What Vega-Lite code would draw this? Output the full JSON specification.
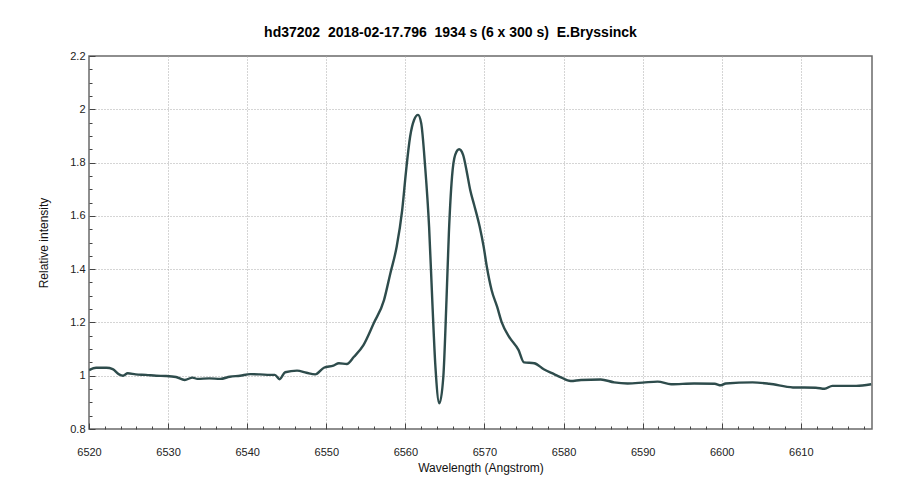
{
  "$schema": "https://vega.github.io/schema/vega-lite/v6.json",
  "width": 783,
  "height": 373,
  "autosize": "none",
  "padding": {"left": 89, "top": 56, "right": 28, "bottom": 71},
  "background": "white",
  "title": {
    "text": "hd37202\u00a0\u00a02018-02-17.796\u00a0\u00a01934 s (6 x 300 s)\u00a0\u00a0E.Bryssinck",
    "font": "Liberation Sans",
    "fontSize": 14,
    "fontWeight": "bold",
    "color": "#000000",
    "anchor": "middle",
    "offset": 10,
    "dx": -30
  },
  "config": {
    "view": {"stroke": "#6a6a6a", "strokeWidth": 1.5},
    "axis": {
      "labelFont": "Liberation Sans",
      "titleFont": "Liberation Sans",
      "labelFontSize": 11,
      "titleFontSize": 12,
      "titleFontWeight": "normal",
      "labelColor": "#222222",
      "titleColor": "#111111",
      "domain": false,
      "tickColor": "#444444",
      "gridColor": "#aaaaaa",
      "gridDash": [1, 2],
      "gridWidth": 1
    }
  },
  "data": {
    "values": [
      {"w": 6520.0, "i": 1.021}, {"w": 6520.9, "i": 1.030}, {"w": 6522.2, "i": 1.030}, {"w": 6523.0, "i": 1.025},
      {"w": 6523.8, "i": 1.005}, {"w": 6524.3, "i": 1.000}, {"w": 6524.9, "i": 1.009}, {"w": 6525.9, "i": 1.005},
      {"w": 6527.2, "i": 1.003}, {"w": 6528.5, "i": 1.000}, {"w": 6529.7, "i": 0.999}, {"w": 6531.0, "i": 0.995},
      {"w": 6532.1, "i": 0.984}, {"w": 6533.1, "i": 0.993}, {"w": 6533.7, "i": 0.988}, {"w": 6535.2, "i": 0.990},
      {"w": 6536.6, "i": 0.988}, {"w": 6537.8, "i": 0.996}, {"w": 6539.1, "i": 1.000}, {"w": 6540.4, "i": 1.006},
      {"w": 6541.6, "i": 1.005}, {"w": 6542.9, "i": 1.003}, {"w": 6543.5, "i": 1.003}, {"w": 6544.1, "i": 0.987},
      {"w": 6544.8, "i": 1.013}, {"w": 6546.3, "i": 1.019}, {"w": 6547.5, "i": 1.011}, {"w": 6548.6, "i": 1.005},
      {"w": 6549.7, "i": 1.030}, {"w": 6550.9, "i": 1.038}, {"w": 6551.6, "i": 1.047}, {"w": 6552.6, "i": 1.044},
      {"w": 6553.5, "i": 1.071}, {"w": 6554.7, "i": 1.115}, {"w": 6556.0, "i": 1.197}, {"w": 6557.3, "i": 1.284},
      {"w": 6558.1, "i": 1.384}, {"w": 6558.9, "i": 1.484}, {"w": 6559.6, "i": 1.622}, {"w": 6560.1, "i": 1.772},
      {"w": 6560.6, "i": 1.897}, {"w": 6561.1, "i": 1.960}, {"w": 6561.6, "i": 1.979}, {"w": 6562.0, "i": 1.948},
      {"w": 6562.5, "i": 1.785}, {"w": 6563.0, "i": 1.559}, {"w": 6563.4, "i": 1.284}, {"w": 6563.8, "i": 1.034},
      {"w": 6564.3, "i": 0.896}, {"w": 6564.8, "i": 0.996}, {"w": 6565.2, "i": 1.284}, {"w": 6565.5, "i": 1.534},
      {"w": 6565.9, "i": 1.747}, {"w": 6566.3, "i": 1.829}, {"w": 6566.8, "i": 1.850}, {"w": 6567.3, "i": 1.829},
      {"w": 6567.8, "i": 1.760}, {"w": 6568.2, "i": 1.697}, {"w": 6568.7, "i": 1.641}, {"w": 6569.4, "i": 1.559},
      {"w": 6569.9, "i": 1.484}, {"w": 6570.3, "i": 1.409}, {"w": 6570.9, "i": 1.322}, {"w": 6571.6, "i": 1.259},
      {"w": 6572.2, "i": 1.199}, {"w": 6573.1, "i": 1.147}, {"w": 6574.3, "i": 1.097}, {"w": 6575.0, "i": 1.050},
      {"w": 6576.3, "i": 1.047}, {"w": 6577.5, "i": 1.024}, {"w": 6578.8, "i": 1.006}, {"w": 6579.6, "i": 0.995},
      {"w": 6580.9, "i": 0.980}, {"w": 6582.2, "i": 0.984}, {"w": 6584.7, "i": 0.986}, {"w": 6586.4, "i": 0.975},
      {"w": 6588.1, "i": 0.971}, {"w": 6590.0, "i": 0.974}, {"w": 6591.9, "i": 0.978}, {"w": 6593.6, "i": 0.968},
      {"w": 6596.5, "i": 0.971}, {"w": 6599.1, "i": 0.970}, {"w": 6599.9, "i": 0.964}, {"w": 6600.5, "i": 0.971},
      {"w": 6603.9, "i": 0.975}, {"w": 6606.0, "i": 0.970}, {"w": 6609.0, "i": 0.956}, {"w": 6611.9, "i": 0.955},
      {"w": 6613.0, "i": 0.951}, {"w": 6614.0, "i": 0.962}, {"w": 6617.0, "i": 0.962}, {"w": 6618.9, "i": 0.968}
    ]
  },
  "mark": {"type": "line", "color": "#2e4c4c", "strokeWidth": 2.4, "interpolate": "monotone", "clip": true},
  "encoding": {
    "x": {
      "field": "w",
      "type": "quantitative",
      "scale": {"domain": [6520, 6619], "nice": false, "zero": false},
      "axis": {
        "title": "Wavelength (Angstrom)",
        "titlePadding": 5,
        "values": [6520, 6522, 6524, 6526, 6528, 6530, 6532, 6534, 6536, 6538, 6540, 6542, 6544, 6546, 6548, 6550, 6552, 6554, 6556, 6558, 6560, 6562, 6564, 6566, 6568, 6570, 6572, 6574, 6576, 6578, 6580, 6582, 6584, 6586, 6588, 6590, 6592, 6594, 6596, 6598, 6600, 6602, 6604, 6606, 6608, 6610, 6612, 6614, 6616, 6618],
        "labelExpr": "datum.value % 10 === 0 ? datum.value + '' : ''",
        "tickSize": {"condition": {"test": "datum.value % 10 === 0", "value": -6}, "value": -3},
        "gridOpacity": {"condition": {"test": "datum.value % 10 === 0 && datum.value > 6520", "value": 1}, "value": 0},
        "labelPadding": 23,
        "labelFlush": false
      }
    },
    "y": {
      "field": "i",
      "type": "quantitative",
      "scale": {"domain": [0.8, 2.2], "nice": false, "zero": false},
      "axis": {
        "title": "Relative intensity",
        "titlePadding": 19,
        "values": [0.8, 0.85, 0.9, 0.95, 1.0, 1.05, 1.1, 1.15, 1.2, 1.25, 1.3, 1.35, 1.4, 1.45, 1.5, 1.55, 1.6, 1.65, 1.7, 1.75, 1.8, 1.85, 1.9, 1.95, 2.0, 2.05, 2.1, 2.15, 2.2],
        "labelExpr": "abs(datum.value * 5 - round(datum.value * 5)) < 0.001 ? format(datum.value, '~g') : ''",
        "tickSize": {"condition": {"test": "abs(datum.value * 5 - round(datum.value * 5)) < 0.001", "value": -6}, "value": -3},
        "gridOpacity": {"condition": {"test": "abs(datum.value * 5 - round(datum.value * 5)) < 0.001 && datum.value > 0.85 && datum.value < 2.15", "value": 1}, "value": 0},
        "labelPadding": 10,
        "labelFlush": false
      }
    }
  }
}
